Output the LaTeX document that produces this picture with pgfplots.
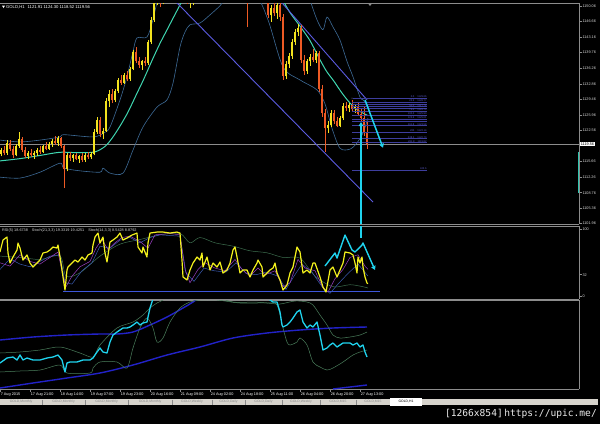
\documentclass[border=0pt]{standalone}
\usepackage{fontspec}
\setmainfont{Liberation Sans}
\newfontfamily\urlfont{DejaVu Sans Mono}
\usepackage{pgfplots}
\usepackage{pgfplotstable}
\pgfplotsset{compat=1.18}
\usetikzlibrary{arrows.meta}

\definecolor{bull}{HTML}{F2E21E}
\definecolor{bear}{HTML}{EE5A24}
\definecolor{panelgrey}{HTML}{8C8C8C}
\definecolor{ticktext}{HTML}{D8D8D8}
\definecolor{maline}{HTML}{3FD6B0}
\definecolor{bbband}{HTML}{3D6A96}
\definecolor{channel}{HTML}{5B5BE0}
\definecolor{fibo}{HTML}{3E3E9E}
\definecolor{fibotext}{HTML}{5A5AC8}
\definecolor{arrowcyan}{HTML}{1FD3EE}
\definecolor{rsiyellow}{HTML}{F4F21C}
\definecolor{stochpurple}{HTML}{9B3FC2}
\definecolor{stochblue}{HTML}{3A5AB0}
\definecolor{stochgreen}{HTML}{3C6E4E}
\definecolor{levelblue}{HTML}{3C55D8}
\definecolor{deepblue}{HTML}{2222C8}
\definecolor{bandgreen}{HTML}{4A7E5C}
\definecolor{spreadteal}{HTML}{2EC4AE}
\definecolor{tabgrey}{HTML}{D6D3CC}
\definecolor{tabtext}{HTML}{8A8A8A}

\newcommand{\tickfont}{\fontsize{3.8}{4.4}\selectfont}
\newcommand{\headfont}{\fontsize{4.2}{5}\selectfont}
\newcommand{\fibofont}{\fontsize{2.6}{3}\selectfont}

% GOLD H1 candles: x position, open, high, low, close
\pgfplotstableread{
x o h l c
1 1117.4 1118.6 1116.8 1118.2
4 1118.2 1119.0 1117.0 1117.5
7 1117.5 1120.5 1117.2 1119.8
10 1119.8 1120.4 1118.0 1118.4
13 1118.4 1119.2 1116.5 1117.0
16 1117.0 1119.5 1116.8 1119.0
19 1119.0 1122.3 1118.6 1120.6
22 1120.6 1121.0 1117.8 1118.2
25 1118.2 1118.8 1116.4 1116.9
28 1116.9 1118.0 1116.2 1117.6
31 1117.6 1118.4 1116.6 1117.0
34 1117.0 1117.9 1116.3 1117.5
37 1117.5 1118.6 1116.9 1118.3
40 1118.3 1119.0 1117.4 1117.8
43 1117.8 1119.3 1117.5 1119.0
46 1119.0 1119.9 1118.1 1118.5
49 1118.5 1120.0 1118.2 1119.6
52 1119.6 1120.6 1118.9 1120.2
55 1120.2 1121.2 1119.4 1119.8
58 1119.8 1121.4 1119.2 1120.8
61 1120.8 1121.1 1118.6 1119.0
64 1119.0 1119.4 1109.8 1113.9
67 1113.9 1117.6 1113.5 1117.0
70 1117.0 1117.8 1115.8 1116.4
73 1116.4 1117.4 1115.6 1117.1
76 1117.1 1117.5 1115.9 1116.2
79 1116.2 1117.2 1115.4 1116.9
82 1116.9 1117.6 1115.6 1116.0
85 1116.0 1117.5 1115.5 1117.2
88 1117.2 1117.8 1116.2 1116.6
91 1116.6 1117.8 1116.2 1117.4
94 1117.4 1122.8 1117.0 1122.2
97 1122.2 1125.4 1121.8 1124.8
100 1124.8 1125.6 1121.0 1121.8
103 1121.8 1123.0 1120.6 1122.5
106 1122.5 1129.8 1122.2 1129.0
109 1129.0 1131.4 1127.8 1130.6
112 1130.6 1131.6 1128.6 1129.2
115 1129.2 1131.8 1128.8 1131.3
118 1131.3 1134.2 1130.8 1133.8
121 1133.8 1134.8 1132.6 1133.1
124 1133.1 1135.2 1132.8 1134.7
127 1134.7 1135.6 1133.4 1133.9
130 1133.9 1136.6 1133.5 1136.2
133 1136.2 1140.4 1135.8 1139.9
136 1139.9 1141.0 1137.4 1138.0
139 1138.0 1138.8 1136.4 1137.0
142 1137.0 1138.2 1136.0 1137.8
145 1137.8 1138.8 1136.8 1137.4
148 1137.4 1142.6 1137.0 1142.0
151 1142.0 1147.6 1141.6 1147.0
154 1147.0 1152.5 1146.6 1151.8
157 1151.8 1155.0 1150.2 1154.2
160 1154.2 1156.0 1149.8 1152.0
163 1152.0 1155.8 1150.4 1155.0
166 1155.0 1158.4 1154.4 1157.6
169 1157.6 1160.2 1156.8 1159.4
172 1159.4 1161.0 1157.6 1158.2
175 1158.2 1159.0 1155.8 1156.4
178 1156.4 1157.2 1154.0 1154.6
181 1154.6 1155.8 1153.2 1155.2
184 1155.2 1155.8 1152.2 1152.8
187 1152.8 1153.6 1150.6 1151.4
190 1151.4 1152.6 1149.6 1152.2
193 1152.2 1154.6 1150.2 1154.0
196 1154.0 1157.0 1153.6 1156.4
199 1156.4 1159.2 1155.8 1158.6
202 1158.6 1160.4 1157.2 1157.8
205 1157.8 1162.4 1157.4 1161.6
208 1161.6 1164.0 1160.6 1163.2
211 1163.2 1164.4 1160.8 1161.4
214 1161.4 1162.2 1158.6 1159.2
217 1159.2 1161.6 1158.8 1160.8
220 1160.8 1161.4 1157.6 1158.0
223 1158.0 1158.8 1155.4 1156.2
226 1156.2 1158.6 1155.8 1157.8
229 1157.8 1159.8 1157.0 1159.2
232 1159.2 1160.0 1156.4 1157.0
235 1157.0 1157.8 1154.2 1154.8
238 1154.8 1156.8 1154.2 1156.2
241 1156.2 1156.8 1153.0 1153.6
244 1153.6 1154.4 1151.6 1152.2
247 1152.2 1153.0 1145.4 1151.6
250 1151.6 1155.6 1151.2 1155.0
253 1155.0 1157.4 1154.4 1156.8
256 1156.8 1157.6 1154.6 1155.2
259 1155.2 1156.0 1152.8 1153.4
262 1153.4 1155.2 1152.6 1154.6
265 1154.6 1155.2 1151.2 1151.8
268 1151.8 1152.4 1147.4 1148.0
271 1148.0 1150.2 1146.6 1149.6
274 1149.6 1151.4 1147.8 1148.4
277 1148.4 1151.0 1147.2 1150.2
280 1150.2 1151.2 1146.8 1147.6
283 1147.6 1148.2 1133.8 1134.6
286 1134.6 1137.8 1134.0 1137.2
289 1137.2 1139.6 1136.4 1139.0
292 1139.0 1142.8 1138.4 1142.2
295 1142.2 1145.0 1141.4 1144.4
298 1144.4 1146.0 1143.4 1145.2
301 1145.2 1145.8 1137.4 1138.2
304 1138.2 1139.2 1134.8 1135.6
307 1135.6 1138.4 1135.0 1137.8
310 1137.8 1139.4 1136.8 1138.8
313 1138.8 1140.6 1137.6 1138.2
316 1138.2 1140.2 1137.4 1139.6
319 1139.6 1140.0 1131.0 1131.8
322 1131.8 1132.6 1125.6 1126.4
325 1126.4 1127.2 1117.8 1123.0
328 1123.0 1124.6 1122.0 1123.8
331 1123.8 1127.0 1123.2 1126.4
334 1126.4 1127.0 1124.0 1124.6
337 1124.6 1125.4 1123.2 1123.6
340 1123.6 1125.8 1123.2 1125.2
343 1125.2 1128.6 1124.8 1128.0
346 1128.0 1128.8 1126.8 1127.4
349 1127.4 1128.6 1126.6 1128.2
352 1128.2 1129.2 1126.8 1127.2
355 1127.2 1128.4 1126.4 1127.9
358 1127.9 1128.6 1125.8 1126.2
361 1126.2 1127.4 1124.6 1125.2
364 1125.2 1127.8 1121.4 1121.91
367 1121.91 1124.30 1118.52 1119.56
}\candles

\pgfplotsset{
  panel/.style={
    scale only axis, width=579pt, xmin=0, xmax=579,
    anchor=north west, clip bounding box=upper bound,
    axis x line*=box, axis y line*=right,
    axis line style={-, draw=panelgrey, line width=1pt},
    tick style={draw=panelgrey, line width=0.5pt},
    major tick length=2.5pt, tick align=outside,
    ticklabel style={font=\tickfont, text=ticktext},
    yticklabel style={anchor=west, inner sep=0.8pt},
  },
  wick/.style={draw=none, forget plot,
    error bars/.cd, y dir=plus, y explicit, error mark=none,
    error bar style={draw=#1, line width=0.45pt}},
  body/.style={draw=none, forget plot,
    error bars/.cd, y dir=plus, y explicit, error mark=none,
    error bar style={draw=#1, line width=1.4pt}},
  up candles/.style={restrict expr to domain={\thisrow{c}-\thisrow{o}}{0:1000}},
  down candles/.style={restrict expr to domain={\thisrow{o}-\thisrow{c}}{0.0001:1000}},
}

\begin{document}
\begin{tikzpicture}[x=1pt,y=1pt]
\fill[black] (0,0) rectangle (600,-424);

% ---------------- price panel ----------------
\begin{axis}[panel, at={(0pt,-3pt)}, height=221pt,
  ymin=1101.84, ymax=1150.72, xtick=\empty,
  ytick={1101.96,1105.36,1108.76,1112.26,1115.66,1122.56,1125.96,1129.46,1132.86,1136.26,1139.76,1143.16,1146.66,1150.06},
  yticklabels={1101.96,1105.36,1108.76,1112.26,1115.66,1122.56,1125.96,1129.46,1132.86,1136.26,1139.76,1143.16,1146.66,1150.06}]

% last price line
\addplot[panelgrey, line width=0.5pt] coordinates {(0,1119.56) (579,1119.56)};

% Bollinger bands
\addplot[bbband, line width=0.6pt, smooth] coordinates {
(0,1120.4) (20,1120.0) (40,1120.4) (60,1121.1) (64,1121.6) (93,1121.1) (104,1122.0)
(110,1123.3) (120,1129.3) (127,1134.4) (133,1140.0) (137,1143.0) (147,1143.2)
(153,1147.0) (158,1151.4) (170,1156.0) (200,1164.0) (240,1168.0) (280,1163.0)
(300,1158.0) (310,1151.4) (317,1147.0) (323,1144.8) (327,1147.6) (333,1145.4)
(340,1142.5) (347,1137.8) (353,1134.4) (360,1129.9) (363,1129.3) (368,1128.0)};
\addplot[bbband, line width=0.6pt, smooth] coordinates {
(0,1112.2) (20,1112.0) (40,1113.3) (60,1115.3) (64,1114.2) (80,1113.6) (100,1113.3)
(103,1114.2) (110,1113.1) (123,1113.1) (133,1118.2) (143,1123.3) (157,1127.7)
(167,1129.3) (173,1133.0) (180,1141.0) (185,1144.3) (190,1145.9) (200,1146.3)
(210,1148.1) (220,1150.1) (230,1152.5) (255,1152.5) (268,1147.0) (283,1136.6)
(300,1133.7) (317,1131.5) (325,1128.4) (332,1123.0) (340,1118.6) (350,1118.4)
(357,1119.8) (363,1122.0) (368,1125.3)};

% moving average
\addplot[maline, line width=1pt, smooth] coordinates {
(0,1115.8) (20,1116.3) (40,1117.0) (60,1117.7) (80,1117.6) (95,1117.8) (105,1119.0)
(112,1120.8) (120,1123.5) (128,1126.6) (136,1130.3) (144,1134.0) (152,1138.0)
(160,1141.8) (168,1145.2) (176,1148.6) (184,1151.8) (200,1156.0) (220,1159.0)
(240,1159.5) (260,1157.0) (275,1153.5) (283,1151.2) (290,1148.6) (300,1145.6)
(310,1142.4) (318,1139.0) (326,1135.8) (334,1133.4) (342,1130.8) (350,1128.6)
(358,1127.0) (368,1125.8)};

% trend channel
\addplot[channel, line width=0.9pt] coordinates {(170,1152.3) (373,1106.7)};
\addplot[channel, line width=0.9pt] coordinates {(279,1151.5) (367,1129.3)};

% candles
\addplot[up candles, wick=bull]
  table[x=x, y=l, y error expr=\thisrow{h}-\thisrow{l}] {\candles};
\addplot[down candles, wick=bear]
  table[x=x, y=l, y error expr=\thisrow{h}-\thisrow{l}] {\candles};
\addplot[up candles, body=bull]
  table[x=x, y=o, y error expr=\thisrow{c}-\thisrow{o}] {\candles};
\addplot[down candles, body=bear]
  table[x=x, y=c, y error expr=\thisrow{o}-\thisrow{c}] {\candles};

% Fibonacci expansion levels
\addplot[draw=none, forget plot, error bars/.cd, x dir=plus, x explicit, error mark=none,
  error bar style={draw=fibo, line width=0.5pt}] coordinates {
(352,1129.66) +- (75,0) (352,1128.77) +- (75,0) (352,1128.22) +- (75,0)
(352,1127.78) +- (75,0) (352,1127.34) +- (75,0) (352,1126.79) +- (75,0)
(352,1125.90) +- (75,0) (352,1125.01) +- (75,0) (352,1124.46) +- (75,0)
(352,1123.58) +- (75,0) (352,1122.14) +- (75,0) (352,1120.70) +- (75,0)
(352,1119.82) +- (75,0) (352,1113.73) +- (75,0)};
\addplot[only marks, mark=*, mark size=0.7pt, mark options={fill=white, draw=none}] coordinates {(352,1129.66)};
\begin{scope}[every node/.style={anchor=south east, font=\fibofont, text=fibotext, inner sep=0.2pt}]
\node at (axis cs:427,1129.66) {0.0\hspace{3pt}1129.66};
\node at (axis cs:427,1128.77) {23.6\hspace{3pt}1128.77};
\node at (axis cs:427,1127.78) {50.0\hspace{3pt}1127.78};
\node at (axis cs:427,1126.79) {76.4\hspace{3pt}1126.79};
\node at (axis cs:427,1125.90) {100.0\hspace{3pt}1125.90};
\node at (axis cs:427,1125.01) {123.6\hspace{3pt}1125.01};
\node at (axis cs:427,1123.58) {161.8\hspace{3pt}1123.58};
\node at (axis cs:427,1122.14) {200\hspace{3pt}1122.14};
\node at (axis cs:427,1120.70) {238.2\hspace{3pt}1120.70};
\node at (axis cs:427,1119.82) {261.8\hspace{3pt}1119.82};
\node at (axis cs:427,1113.73) {423.6};
\end{scope}

% projection arrows
\addplot[arrowcyan, line width=1.5pt, -{Triangle[length=4pt,width=4.5pt]}] coordinates {(365,1129.3) (383,1118.7)};
\addplot[arrowcyan, line width=1.3pt, -{Triangle[length=4pt,width=4.5pt]}] coordinates {(361,1101.84) (361,1124.4)};

% spread marker on the price scale
\addplot[spreadteal, line width=1.2pt] coordinates {(578.4,1117.8) (578.4,1108.7)};
\end{axis}

% ---------------- oscillator panel ----------------
\begin{axis}[panel, at={(0pt,-226pt)}, height=73pt,
  ymin=-4.5, ymax=105.3, xtick=\empty,
  ytick={0,32,100}, yticklabels={0,32,100}]

\addplot[levelblue, line width=0.8pt] coordinates {(63,6.5) (380,6.5)};

\addplot[stochgreen, line width=0.5pt, smooth] coordinates {
(0,60) (20,58) (40,55) (60,60) (66,30) (80,35) (100,60) (120,78) (140,85) (160,92)
(180,94) (190,80) (200,88) (215,80) (233,75) (250,68) (267,65) (283,58) (300,57)
(315,30) (333,14) (350,17) (363,14) (368,12)};
\addplot[stochblue, line width=0.5pt] coordinates {
(0,40) (10,56) (20,48) (30,44) (40,52) (50,60) (60,62) (65,20) (72,18) (82,38)
(92,50) (100,75) (110,72) (120,84) (130,88) (140,80) (150,88) (160,92) (180,90)
(186,35) (194,22) (204,42) (214,38) (226,36) (236,50) (246,34) (256,32) (266,36)
(278,30) (286,10) (294,30) (302,48) (312,36) (322,14) (330,4) (338,18) (348,34)
(358,48) (368,30)};
\addplot[stochpurple, line width=0.5pt] coordinates {
(0,50) (10,45) (20,62) (30,52) (40,48) (50,58) (58,66) (63,30) (66,14) (72,30)
(80,44) (90,52) (96,72) (102,85) (108,70) (115,80) (122,88) (130,90) (140,82)
(148,72) (155,92) (170,94) (180,92) (185,40) (190,20) (198,40) (205,50) (215,42)
(225,38) (235,55) (242,40) (250,30) (258,42) (265,32) (275,38) (283,14) (290,20)
(298,55) (305,42) (315,38) (323,12) (328,6) (335,26) (343,40) (350,58) (358,62)
(365,45) (368,40)};

% RSI(5)
\addplot[rsiyellow, line width=1.2pt, line join=round] coordinates {
(0,66.2) (3,84.2) (7,88.7) (8,64.7) (10,49.6) (13,58.6) (17,69.2) (18,79.7) (20,72.2)
(23,54.1) (27,61.7) (30,49.6) (33,43.6) (37,49.6) (40,54.1) (43,64.7) (47,66.2)
(50,69.2) (53,73.7) (57,72.2) (58,76.7) (60,58.6) (62,39.1) (63,28.6) (65,9.0)
(67,39.1) (68,43.6) (72,49.6) (75,54.1) (78,51.1) (82,58.6) (85,54.1) (88,61.7)
(92,64.7) (93,76.7) (95,88.7) (98,94.7) (100,79.7) (103,88.7) (105,64.7) (107,51.1)
(110,81.2) (113,84.2) (117,88.7) (120,94.7) (123,84.2) (127,87.2) (132,91.7)
(137,94.7) (138,73.7) (142,64.7) (143,73.7) (147,58.6) (148,79.7) (150,94.7)
(157,96.2) (163,96.2) (170,94.7) (177,96.2) (180,94.7) (182,54.1) (183,28.6)
(187,24.1) (190,39.1) (193,49.6) (197,58.6) (200,54.1) (202,64.7) (203,43.6)
(207,58.6) (210,39.1) (213,49.6) (217,43.6) (220,51.1) (223,34.6) (227,39.1)
(230,49.6) (233,69.2) (235,73.7) (237,58.6) (240,34.6) (243,39.1) (247,39.1)
(250,28.6) (253,39.1) (257,49.6) (258,54.1) (262,43.6) (263,28.6) (267,34.6)
(270,39.1) (273,42.1) (275,49.6) (277,34.6) (280,24.1) (283,9.0) (287,16.5)
(290,34.6) (293,43.6) (297,73.7) (300,66.2) (303,34.6) (307,39.1) (310,34.6)
(313,49.6) (315,49.6) (320,28.6) (323,13.5) (326,6.0) (330,39.1) (333,43.6)
(337,28.6) (340,39.1) (343,49.6) (345,66.2) (350,64.7) (353,61.7) (355,49.6)
(357,34.6) (358,58.6) (360,49.6) (362,58.6) (363,43.6) (365,28.6) (367,19.5)
(368,18.7)};

% drawn projection on the oscillator
\addplot[arrowcyan, line width=1.4pt, line join=round, -{Triangle[length=4pt,width=4.5pt]}] coordinates {
(325,45.1) (335,64.7) (337,57.1) (345,91.7) (352,69.2) (355,66.2) (362,76.7) (363,79.7) (375,39.1)};
\addplot[arrowcyan, line width=1.3pt] coordinates {(361,105.3) (361,87.0)};
\end{axis}

% ---------------- lower panel ----------------
\begin{axis}[panel, at={(0pt,-300pt)}, height=89pt,
  ymin=0, ymax=89, ytick=\empty,
  xtick={0,30,...,360}, xtick pos=left, major tick length=3pt,
  xticklabels={7 Aug 2015,17 Aug 21:00,18 Aug 14:00,19 Aug 07:00,19 Aug 23:00,20 Aug 16:00,21 Aug 09:00,24 Aug 02:00,24 Aug 18:00,25 Aug 11:00,26 Aug 04:00,26 Aug 20:00,27 Aug 13:00},
  xticklabel style={anchor=north west, inner sep=0.6pt, text=white}]

\addplot[deepblue, line width=1.4pt, smooth] coordinates {
(0,49) (33,52) (67,54) (100,55) (117,55) (133,57) (150,64) (167,72) (183,81) (193,87) (205,96)};
\addplot[deepblue, line width=1.4pt, smooth] coordinates {
(0,1) (33,6) (67,11) (100,16) (133,24) (167,34) (200,42) (233,51) (267,56) (300,59) (333,61) (367,62)};
\addplot[deepblue, line width=1.4pt, smooth] coordinates {(333,0) (350,2) (367,4)};

\addplot[bandgreen, line width=0.5pt, smooth] coordinates {
(0,36) (20,37) (40,39) (60,42) (80,36) (93,32) (100,44) (117,61) (133,67) (143,74)
(150,81) (157,86) (163,89) (170,95) (200,96) (233,87) (253,87) (267,86) (280,85)
(295,88) (307,87) (313,84) (320,74) (327,64) (333,54) (340,51) (350,52) (360,54) (367,57)};
\addplot[bandgreen, line width=0.5pt, smooth] coordinates {
(0,17) (20,18) (40,19) (60,24) (67,16) (90,16) (93,21) (100,27) (117,27) (127,21)
(133,41) (140,61) (147,71) (153,61) (157,47) (163,51) (170,67) (180,81) (190,87)
(200,89) (217,89) (240,86) (267,86) (277,84) (283,61) (287,47) (290,44) (297,47)
(300,51) (307,44) (313,27) (320,22) (327,19) (333,21) (343,27) (353,34) (360,37) (367,39)};

\addplot[arrowcyan, line width=1.3pt, line join=round] coordinates {
(0,26) (7,31) (13,32) (17,29) (20,34) (23,29) (27,31) (33,29) (40,29) (47,31) (53,32)
(58,34) (62,29) (65,17) (67,26) (70,27) (77,27) (83,29) (90,29) (93,31) (97,37)
(100,41) (103,37) (107,36) (110,47) (113,54) (117,57) (120,59) (123,61) (127,61)
(130,62) (133,64) (137,67) (140,64) (143,66) (147,67) (148,72) (150,81) (152,87)
(153,91) (156,99) (180,110) (220,115) (250,105) (265,99) (268,91) (270,89) (273,87)
(277,87) (280,77) (282,64) (283,62) (287,64) (290,67) (293,71) (297,77) (300,79)
(303,67) (307,61) (310,64) (313,62) (317,67) (320,54) (323,39) (327,41) (330,44)
(333,46) (337,42) (340,44) (343,46) (347,46) (350,46) (353,44) (357,46) (360,42)
(363,44) (365,37) (367,32)};
\end{axis}

% ---------------- chart furniture ----------------
\fill[white] (2,-5.6) -- (5,-5.6) -- (3.5,-8) -- cycle;
\node[anchor=west, font=\headfont, text=white, inner sep=0] at (6,-7)
  {GOLD,H1\hspace{3pt}1121.91 1124.30 1118.52 1119.56};
\fill[panelgrey] (368,-3.5) -- (372,-3.5) -- (370,-6) -- cycle;
\node[anchor=west, font=\tickfont, text=ticktext, inner sep=0] at (2,-230.5)
  {RSI(5) 18.6738\hspace{4pt}Stoch(21,3,3) 19.3319 19.4251\hspace{4pt}Stoch(14,3,3) 8.5428 8.8792};
\node[anchor=west, font=\tickfont, fill=white, text=black, inner sep=0.7pt] at (580,-144)
  {1119.56};

% window tabs
\fill[tabgrey] (0,-399) rectangle (598,-405);
\foreach \s in {42,85,128,172,212,245,282,320,356}
  \draw[tabtext, line width=0.3pt] (\s,-399.5) -- (\s,-404.5);
\fill[white] (390,-398) rectangle (422,-406);
\begin{scope}[every node/.style={font=\fontsize{3.4}{4}\selectfont, text=tabtext, inner sep=0}]
\node at (21,-402) {GOLD,Monthly};
\node at (63.5,-402) {GOLD,Monthly};
\node at (106.5,-402) {GOLD,Monthly};
\node at (150,-402) {GOLD,Monthly};
\node at (192,-402) {GOLD,Weekly};
\node at (228.5,-402) {GOLD,Daily};
\node at (263.5,-402) {GOLD,Daily};
\node at (301,-402) {GOLD,Weekly};
\node at (338,-402) {GOLD,M15};
\node at (373,-402) {GOLD,M15};
\node[text=black] at (406,-402) {GOLD,H1};
\end{scope}

\node[anchor=east, font=\urlfont\fontsize{9.6}{11}\selectfont, text=white!92!black, inner sep=0] at (597,-413.5)
  {[1266x854]\hspace{1.5pt}https://upic.me/};

\pgfresetboundingbox
\useasboundingbox (0,0) rectangle (600,-424);
\end{tikzpicture}
\end{document}
